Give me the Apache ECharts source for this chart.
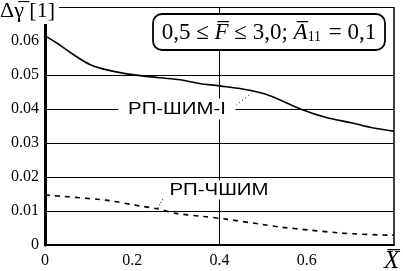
<!DOCTYPE html>
<html><head><meta charset="utf-8">
<script src="https://cdn.jsdelivr.net/npm/echarts@6/dist/echarts.min.js"></script>
<style>html,body{margin:0;padding:0;background:#fff}#c{width:403px;height:271px}</style>
</head><body><div id="c"></div>
<script>
// Data
const shimX = [0, 0.027, 0.064, 0.103, 0.142, 0.2, 0.263, 0.31, 0.354, 0.4, 0.469, 0.514, 0.59, 0.645, 0.704, 0.75, 0.8];
const shimY = [0.0615, 0.0594, 0.0561, 0.0531, 0.0515, 0.0501, 0.0492, 0.0486, 0.0475, 0.0468, 0.0455, 0.0440, 0.0398, 0.0375, 0.0359, 0.0345, 0.0335];
const chshimX = [0, 0.14, 0.217, 0.26, 0.3, 0.37, 0.415, 0.49, 0.537, 0.606, 0.68, 0.79, 0.8];
const chshimY = [0.0147, 0.0132, 0.0115, 0.0106, 0.0093, 0.0083, 0.0076, 0.0062, 0.0053, 0.0044, 0.0035, 0.0029, 0.0029];
const xTickLabels = ['0', '0.2', '0.4', '0.6', ''];
const yGridValues = [0.01, 0.02, 0.03, 0.04, 0.05, 0.07];
const xGridValues = [0.4, 0.8];
const shimName = 'РП-ШИМ-I';
const chshimName = 'РП-ЧШИМ';
const leaderShimX = [0.43, 0.474], leaderShimY = [0.0403, 0.0447];
const leaderChX = [0.258, 0.27], leaderChY = [0.0109, 0.0135];

const zip = (a, b) => a.map((v, i) => [v, b[i]]);
const chart = echarts.init(document.getElementById('c'), null, {renderer: 'canvas'});
const serif = '"Liberation Serif", "Times New Roman", serif';
const sans = '"Liberation Sans", Arial, sans-serif';

chart.setOption({
  animation: false,
  grid: {left: 45, right: 9, top: 7, bottom: 26, containLabel: false},
  xAxis: {
    type: 'value', min: 0, max: 0.8, interval: 0.2,
    axisLine: {show: true, onZero: false, lineStyle: {color: '#000', width: 2}},
    axisTick: {show: false},
    splitLine: {show: false},
    axisLabel: {
      color: '#000', fontFamily: serif, fontSize: 16, margin: 8,
      formatter: (v) => xTickLabels[Math.round(v / 0.2)]
    }
  },
  yAxis: {
    type: 'value', min: 0, max: 0.07, interval: 0.01,
    axisLine: {show: true, lineStyle: {color: '#000', width: 3}},
    axisTick: {show: false},
    splitLine: {show: false},
    axisLabel: {
      color: '#000', fontFamily: serif, fontSize: 16, margin: 6,
      formatter: (v) => {
        const r = Math.round(v * 100);
        if (r === 0) return '0';
        if (r >= 7) return '';
        return (r / 100).toFixed(2);
      }
    }
  },
  series: [
    {
      type: 'line', name: 'grid', data: [], silent: true,
      markLine: {
        silent: true, symbol: 'none', label: {show: false},
        lineStyle: {color: '#000', width: 1, type: 'solid'},
        data: yGridValues.map(v => ({yAxis: v})).concat(xGridValues.map(v => ({xAxis: v, lineStyle: {width: v === 0.8 ? 1.5 : 1}})))
      }
    },
    {
      type: 'line', name: shimName, data: zip(shimX, shimY), showSymbol: false, smooth: 0.35,
      lineStyle: {color: '#000', width: 1.6}, z: 5
    },
    {
      type: 'line', name: chshimName, data: zip(chshimX, chshimY), showSymbol: false, smooth: 0.2,
      lineStyle: {color: '#000', width: 1.6, type: [5, 5]}, z: 5
    },
    {
      type: 'line', data: zip(leaderShimX, leaderShimY), showSymbol: false,
      lineStyle: {color: '#000', width: 1, type: [1, 3]}, z: 5
    },
    {
      type: 'line', data: zip(leaderChX, leaderChY), showSymbol: false,
      lineStyle: {color: '#000', width: 1, type: [1, 2]}, z: 5
    }
  ],
  graphic: [
    {
      type: 'text', left: 0, top: 0, z: 100,
      style: {
        text: 'Δγ̅ [1]', font: '22px ' + serif, fill: '#000',
        backgroundColor: '#fff', padding: [0, 4, 2, 0]
      }
    },
    {
      type: 'text', x: 177, y: 109, z: 100, scaleX: 1.2, originX: 0, originY: 0,
      style: {
        text: shimName, font: '17px ' + sans, fill: '#000', align: 'center', verticalAlign: 'middle',
        backgroundColor: '#fff', padding: [2, 8, 2, 8]
      }
    },
    {
      type: 'text', x: 219, y: 190, z: 100, scaleX: 1.2,
      style: {
        text: chshimName, font: '17px ' + sans, fill: '#000', align: 'center', verticalAlign: 'middle',
        backgroundColor: '#fff', padding: [1, 2, 1, 2]
      }
    },
    {
      type: 'rect', z: 100,
      shape: {x: 153, y: 14, width: 232, height: 36, r: 9},
      style: {fill: '#fff', stroke: '#000', lineWidth: 1.8}
    },
    {
      type: 'text', x: 269, y: 33, z: 101,
      style: {
        text: '{n|0,5 ≤ }{i|F̅}{n| ≤ 3,0; }{i|A̅}{s|11}{n| = 0,1}',
        align: 'center', verticalAlign: 'middle',
        rich: {
          n: {font: '23px ' + serif, fill: '#000'},
          i: {font: 'italic 23px ' + serif, fill: '#000'},
          s: {font: '14px ' + serif, fill: '#000', verticalAlign: 'bottom', padding: [8, 2, 0, 0]}
        }
      }
    },
    {
      type: 'text', x: 384, y: 249, z: 100,
      style: {
        text: 'X̅', font: 'italic 25px ' + serif, fill: '#000', align: 'left'
      }
    }
  ]
});
</script></body></html>
